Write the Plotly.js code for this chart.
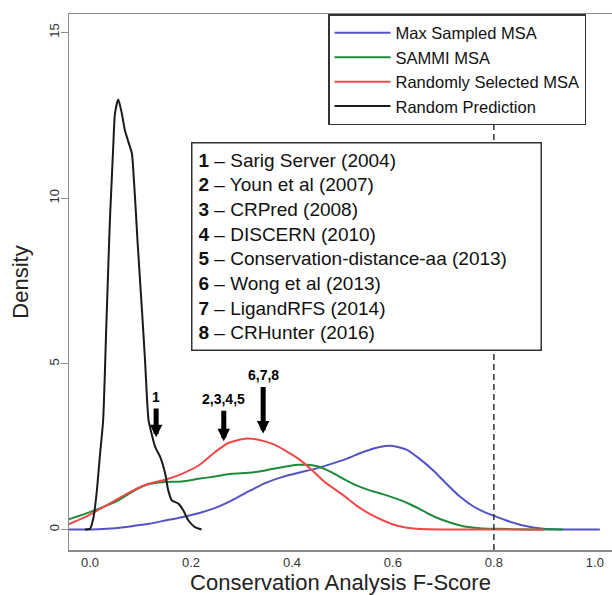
<!DOCTYPE html>
<html>
<head>
<meta charset="utf-8">
<script src="https://cdn.plot.ly/plotly-3.0.1.min.js"></script>
<style>html,body{margin:0;padding:0;background:#fff;}#chart{width:612px;height:595px;}</style>
</head>
<body>
<div id="chart"></div>
<script>
// ---- data ----
const seriesNames = ["Max Sampled MSA", "SAMMI MSA", "Randomly Selected MSA", "Random Prediction"];

const maxSampledX = [-0.042, 0.0165, 0.05, 0.083, 0.116, 0.149, 0.182, 0.215, 0.248, 0.281, 0.314, 0.347, 0.380, 0.413, 0.446, 0.478, 0.508, 0.541, 0.574, 0.600, 0.627, 0.653, 0.680, 0.706, 0.732, 0.759, 0.785, 0.799, 0.825, 0.858, 0.898, 0.937, 1.010];
const maxSampledY = [0, 0.01, 0.04, 0.10, 0.17, 0.27, 0.37, 0.49, 0.65, 0.88, 1.15, 1.40, 1.58, 1.71, 1.83, 1.98, 2.13, 2.34, 2.49, 2.52, 2.41, 2.13, 1.78, 1.38, 1.00, 0.70, 0.50, 0.42, 0.27, 0.12, 0.02, 0, 0];

const sammiX = [-0.043, -0.010, 0.0165, 0.050, 0.083, 0.109, 0.129, 0.149, 0.182, 0.215, 0.248, 0.281, 0.314, 0.347, 0.380, 0.413, 0.432, 0.452, 0.478, 0.502, 0.528, 0.554, 0.581, 0.607, 0.634, 0.660, 0.686, 0.713, 0.739, 0.772, 0.805, 0.871, 0.937];
const sammiY = [0.30, 0.47, 0.62, 0.83, 1.13, 1.33, 1.40, 1.43, 1.45, 1.53, 1.60, 1.68, 1.71, 1.78, 1.88, 1.95, 1.95, 1.90, 1.73, 1.53, 1.33, 1.18, 1.06, 0.93, 0.76, 0.56, 0.36, 0.21, 0.10, 0.04, 0.02, 0, 0];

const randomMsaX = [-0.043, -0.010, 0.0165, 0.050, 0.083, 0.116, 0.149, 0.182, 0.215, 0.248, 0.274, 0.307, 0.333, 0.360, 0.386, 0.413, 0.439, 0.465, 0.502, 0.528, 0.554, 0.581, 0.607, 0.647, 0.706, 0.898];
const randomMsaY = [0.15, 0.37, 0.59, 0.88, 1.16, 1.38, 1.50, 1.68, 1.93, 2.34, 2.61, 2.74, 2.71, 2.59, 2.39, 2.13, 1.80, 1.43, 1.03, 0.72, 0.47, 0.27, 0.12, 0.02, 0, 0];

const randomPredX = [-0.01, 0.0, 0.007, 0.013, 0.02, 0.026, 0.032, 0.038, 0.040, 0.043, 0.046, 0.0495, 0.056, 0.063, 0.069, 0.076, 0.083, 0.087, 0.091, 0.094, 0.103, 0.109, 0.116, 0.122, 0.129, 0.139, 0.149, 0.155, 0.162, 0.175, 0.185, 0.195, 0.208, 0.221];
const randomPredY = [0, 0.02, 0.37, 1.08, 2.29, 3.29, 6.0, 8.73, 9.54, 10.54, 11.55, 12.56, 12.98, 12.56, 12.06, 11.70, 11.35, 10.54, 9.54, 8.73, 6.6, 5.1, 3.29, 2.89, 2.49, 2.19, 1.68, 1.18, 0.88, 0.78, 0.57, 0.27, 0.07, 0];

const methodLabels = ["1", "2,3,4,5", "6,7,8"];
const methodScores = [0.131, 0.265, 0.343];
const arrowTipY = [2.78, 2.66, 2.90];
const arrowLabelY = [4.0, 3.93, 4.65];

const methodList = [
  ["1", "Sarig Server (2004)"],
  ["2", "Youn et al (2007)"],
  ["3", "CRPred (2008)"],
  ["4", "DISCERN (2010)"],
  ["5", "Conservation-distance-aa (2013)"],
  ["6", "Wong et al (2013)"],
  ["7", "LigandRFS (2014)"],
  ["8", "CRHunter (2016)"]
];

const thresholdX = [0.8];
const xTickVals = [0, 0.2, 0.4, 0.6, 0.8, 1.0];
const xTickText = ["0.0", "0.2", "0.4", "0.6", "0.8", "1.0"];
const yTickVals = [0, 5, 10, 15];
const yTickText = ["0", "5", "10", "15"];

// ---- styling ----
const FONT = "'Liberation Sans', Arial, Helvetica, sans-serif";
const colors = ["#5353c4", "#1f8a3b", "#f04848", "#1a1a1a"];
const lineShape = {shape: "spline", smoothing: 0.6, width: 2};

const traces = [
  {x: maxSampledX, y: maxSampledY, name: seriesNames[0], line: Object.assign({color: colors[0]}, lineShape)},
  {x: sammiX, y: sammiY, name: seriesNames[1], line: Object.assign({color: colors[1]}, lineShape)},
  {x: randomMsaX, y: randomMsaY, name: seriesNames[2], line: Object.assign({color: colors[2]}, lineShape)},
  {x: randomPredX, y: randomPredY, name: seriesNames[3], line: Object.assign({color: colors[3]}, lineShape)}
].map(t => Object.assign({type: "scatter", mode: "lines", hoverinfo: "skip"}, t));

const annotations = methodLabels.map((lab, i) => ({
  x: methodScores[i], y: arrowTipY[i], xref: "x", yref: "y",
  ax: methodScores[i], ay: arrowLabelY[i], axref: "x", ayref: "y",
  text: "<b>" + lab + "</b>",
  font: {family: FONT, size: 14, color: "#000"},
  showarrow: true, arrowhead: 2, arrowsize: 0.5, arrowwidth: 5, arrowcolor: "#000",
  startstandoff: 2
}));

annotations.push({
  xref: "paper", yref: "paper", x: 0.224, y: 0.7618, xanchor: "left", yanchor: "top",
  showarrow: false, align: "left", valign: "middle",
  text: methodList.map(m => "<b>" + m[0] + "</b> – " + m[1]).join("<br>"),
  font: {family: FONT, size: 19, color: "#111"},
  bgcolor: "#ffffff", bordercolor: "#333", borderwidth: 1.5, borderpad: 6,
  width: 336
});

const layout = {
  width: 612, height: 595,
  margin: {l: 69, r: 0, t: 14, b: 45},
  paper_bgcolor: "#fff", plot_bgcolor: "#fff",
  font: {family: FONT, color: "#222"},
  showlegend: true,
  legend: {
    x: 0.477, y: 1, xanchor: "left", yanchor: "top",
    bgcolor: "#fff", bordercolor: "#333", borderwidth: 1.5,
    font: {family: FONT, size: 16.5, color: "#111"},
    itemwidth: 56, tracegroupgap: 0, entrywidth: 300, entrywidthmode: "pixels"
  },
  xaxis: {
    range: [-0.0416, 1.034], tickvals: xTickVals, ticktext: xTickText,
    showline: true, linecolor: "#8a8a8a", linewidth: 1.5, mirror: true,
    ticks: "", showgrid: false, zeroline: false,
    tickfont: {family: FONT, size: 13, color: "#333"},
    title: {text: "Conservation Analysis F-Score", font: {family: FONT, size: 22, color: "#222"}, standoff: 9}
  },
  yaxis: {
    range: [-0.62, 15.56], tickvals: yTickVals, ticktext: yTickText, tickangle: -90,
    showline: true, linecolor: "#8a8a8a", linewidth: 1.5,
    ticks: "outside", ticklen: 7, tickcolor: "#8a8a8a", tickwidth: 1.2,
    ticklabelstandoff: -4,
    showgrid: false, zeroline: false,
    tickfont: {family: FONT, size: 13, color: "#333"},
    title: {text: "Density", font: {family: FONT, size: 22, color: "#222"}, standoff: 12}
  },
  shapes: thresholdX.map(v => ({
    type: "line", xref: "x", yref: "paper", x0: v, x1: v, y0: 0, y1: 1,
    line: {color: "#333", width: 1.5, dash: "6px,4px"}
  })),
  annotations: annotations
};

Plotly.newPlot("chart", traces, layout, {displayModeBar: false, staticPlot: true});
</script>
</body>
</html>
